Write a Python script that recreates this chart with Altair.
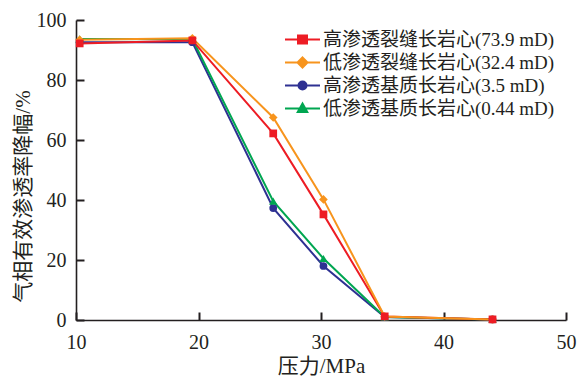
import altair as alt
import pandas as pd

# ---- data ----
pressure = [10.3, 19.5, 26.1, 30.2, 35.2, 44.0]
series_names = [
    "高渗透裂缝长岩心(73.9 mD)",
    "低渗透裂缝长岩心(32.4 mD)",
    "高渗透基质长岩心(3.5 mD)",
    "低渗透基质长岩心(0.44 mD)",
]
red_vals = [92.2, 93.2, 62.2, 35.2, 1.2, 0.2]
orange_vals = [93.4, 93.9, 67.5, 40.2, 1.2, 0.2]
blue_vals = [92.6, 92.6, 37.3, 18.0, 1.0, 0.2]
green_vals = [93.7, 93.6, 39.6, 20.5, 1.0, 0.2]
x_ticks = [10, 20, 30, 40, 50]
y_ticks = [0, 20, 40, 60, 80, 100]

# ---- styles ----
colors = ["#ed1c24", "#f7941d", "#2e3192", "#00a651"]
shapes = ["square", "diamond", "circle", "triangle-up"]
sizes = [60, 75, 60, 70]
# legend symbols: line + marker (custom paths, 1 unit = 5 px)
LINE = "M-5.3,0L1.7,0"
legend_paths = [
    LINE + "M-2.7,-0.8L-0.9,-0.8L-0.9,0.8L-2.7,0.8Z",
    LINE + "M-1.8,-1L-0.8,0L-1.8,1L-2.8,0Z",
    LINE + "M-2.6,0A0.8,0.8 0 1,0 -1.0,0A0.8,0.8 0 1,0 -2.6,0Z",
    LINE + "M-1.8,-1L-0.85,0.7L-2.75,0.7Z",
]

vals = [red_vals, orange_vals, blue_vals, green_vals]
rows = []
for name, v in zip(series_names, vals):
    for p, y in zip(pressure, v):
        rows.append({"series": name, "pressure": p, "value": y})
df = pd.DataFrame(rows)

FONT = "Liberation Serif, Noto Sans CJK SC"
AX = "#231f20"
W, H = 490, 300
TICK = 8

xs = alt.Scale(domain=[10, 50], nice=False)
ys = alt.Scale(domain=[0, 100], nice=False)

# inward ticks are drawn as short dashes of the grid lines
main_x = alt.Axis(
    values=x_ticks, tickOpacity=0,
    grid=True, gridColor=AX, gridWidth=2, gridOpacity=1,
    gridDash=[TICK, H - TICK], gridDashOffset=TICK,
    domainColor=AX, domainWidth=1.6, labelFont=FONT, labelFontSize=20,
    labelColor=AX, labelPadding=7, labelFlush=False, title="压力/MPa",
    titleFont=FONT, titleFontSize=21, titleFontWeight="normal", titleColor=AX,
    titleY=52, titleBaseline="alphabetic",
)
main_y = alt.Axis(
    values=y_ticks, tickOpacity=0,
    grid=True, gridColor=AX, gridWidth=2, gridOpacity=1,
    gridDash=[TICK, 2000],
    domainColor=AX, domainWidth=1.6, labelFont=FONT, labelFontSize=20,
    labelColor=AX, labelPadding=5, labelFlush=False,
    title="气相有效渗透率降幅/%", titleFont=FONT, titleFontSize=21,
    titleFontWeight="normal", titleColor=AX, titleX=-53, titleY=176,
    titleBaseline="middle", titleAlign="center",
)

base = alt.Chart(df)
layers = []

# lines (draw order: blue, green, red, orange)
line_order = [2, 3, 0, 1]
for k, i in enumerate(line_order):
    name = series_names[i]
    if k == 0:
        xenc = alt.X("pressure:Q", scale=xs, axis=main_x)
        yenc = alt.Y("value:Q", scale=ys, axis=main_y)
    else:
        xenc = alt.X("pressure:Q", scale=xs)
        yenc = alt.Y("value:Q", scale=ys)
    layers.append(
        base.transform_filter(alt.datum.series == name)
        .mark_line(color=colors[i], strokeWidth=2)
        .encode(x=xenc, y=yenc)
    )

# markers
point_order = [2, 3, 1, 0]
for i in point_order:
    name = series_names[i]
    layers.append(
        base.transform_filter(alt.datum.series == name)
        .mark_point(shape=shapes[i], filled=True, size=sizes[i],
                    color=colors[i], opacity=1, strokeWidth=0)
        .encode(
            x=alt.X("pressure:Q", scale=xs),
            y=alt.Y("value:Q", scale=ys),
        )
    )

# legend carrier layer (no marks drawn)
leg = alt.Legend(
    title=None, orient="none", legendX=226, legendY=10, padding=0,
    labelFont=FONT, labelFontSize=19, labelColor=AX, labelOffset=2,
    symbolSize=100, symbolStrokeWidth=2, rowPadding=3, labelLimit=400,
)
layers.append(
    base.transform_filter("false")
    .mark_point(filled=True, opacity=1)
    .encode(
        x=alt.X("pressure:Q", scale=xs),
        y=alt.Y("value:Q", scale=ys),
        fill=alt.Fill("series:N", scale=alt.Scale(domain=series_names, range=colors), legend=leg),
        stroke=alt.Stroke("series:N", scale=alt.Scale(domain=series_names, range=colors), legend=leg),
        shape=alt.Shape("series:N", scale=alt.Scale(domain=series_names, range=legend_paths), legend=leg),
    )
)

chart = (
    alt.layer(*layers)
    .properties(
        width=W, height=H,
        padding={"left": 76, "top": 20, "right": 20, "bottom": 56},
        autosize=alt.AutoSizeParams(type="none"),
        background="white",
    )
    .configure_view(stroke=None)
)

chart.save("out.html", embed_options={"renderer": "svg", "actions": False})
